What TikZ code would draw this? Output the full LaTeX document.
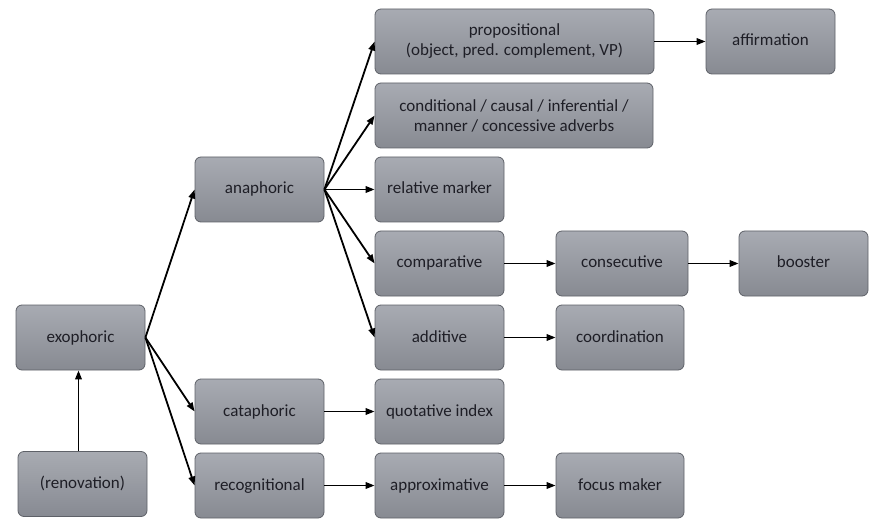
\documentclass[tikz,border=0pt]{standalone}
\usepackage{fontspec}
\setmainfont{Carlito}
\usetikzlibrary{arrows.meta}
\definecolor{boxtop}{HTML}{A8ABB2}
\definecolor{boxbot}{HTML}{878A92}
\definecolor{boxline}{HTML}{5E6168}
\definecolor{txt}{HTML}{1E1E26}
\begin{document}
\begin{tikzpicture}[x=1pt,y=-1pt,
  box/.style={draw=boxline,line width=0.8pt,rounded corners=6pt,top color=boxtop,bottom color=boxbot,
    minimum width=129pt,minimum height=65pt,inner sep=0pt,align=center,text=txt,
    text height=13pt,text depth=4pt,font=\fontsize{17}{20}\selectfont},
  widebox/.style={box,minimum width=279pt,text height=,text depth=},
  link/.style={-{Triangle[length=9pt,width=6.5pt]},line width=1.8pt}]
\useasboundingbox (0,0) rectangle (880,529);

% left column
\node[box] (exo) at (80.5,337.5) {exophoric};
\node[box] (renov) at (82.5,484) {(renovation)};

% second column
\node[box] (ana) at (259.5,189.5) {anaphoric};
\node[box] (cata) at (259.5,411.5) {cataphoric};
\node[box] (recog) at (259.5,485.5) {recognitional};

% third column
\node[widebox] (prop) at (514.5,41.5) {propositional\\(object, pred. complement, VP)};
\node[widebox,minimum width=278pt] (cond) at (514,115.5) {conditional / causal / inferential /\\manner / concessive adverbs};
\node[box] (rel) at (439.5,189.5) {relative marker};
\node[box] (comp) at (439.5,263.5) {comparative};
\node[box] (add) at (439.5,337.5) {additive};
\node[box] (quot) at (439.5,411.5) {quotative index};
\node[box] (approx) at (439.5,485.5) {approximative};

% fourth and fifth columns
\node[box] (affirm) at (770.5,41.5) {affirmation};
\node[box,minimum width=132pt] (consec) at (622,263.5) {consecutive};
\node[box,minimum width=128pt] (coord) at (620,337.5) {coordination};
\node[box,minimum width=128pt] (focus) at (620,485.5) {focus maker};
\node[box] (boost) at (803.5,263.5) {booster};

% connectors
\draw[link] (renov.north -| exo.south) ++(-2,0) -- ([xshift=-2pt]exo.south);
\foreach \t in {ana,cata,recog}
  \draw[link] (exo.east) -- (\t.west);
\foreach \t in {prop,cond,rel,comp,add}
  \draw[link] (ana.east) -- (\t.west);
\draw[link] (cata) -- (quot);
\draw[link] (recog) -- (approx);
\draw[link] (approx) -- (focus);
\draw[link] (prop) -- (affirm);
\draw[link] (comp) -- (consec);
\draw[link] (consec) -- (boost);
\draw[link] (add) -- (coord);
\end{tikzpicture}
\end{document}
